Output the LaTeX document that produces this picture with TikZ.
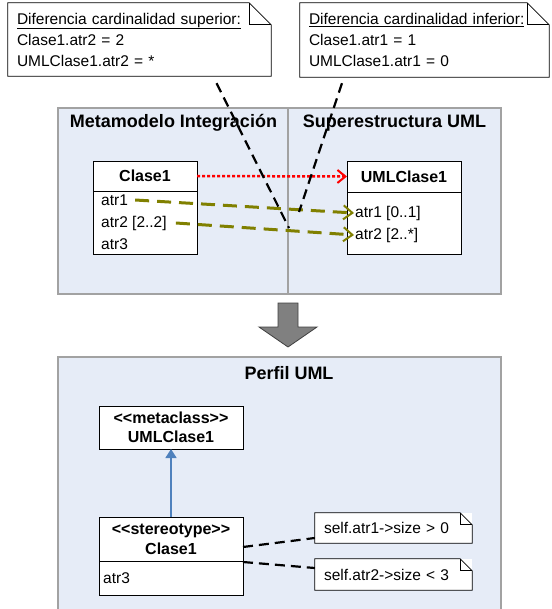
\documentclass[tikz,border=0pt]{standalone}
\usepackage{fontspec}
\setmainfont{Liberation Sans}
\usetikzlibrary{arrows.meta,positioning}
\definecolor{panelfill}{RGB}{230,236,247}
\definecolor{panelline}{RGB}{162,162,162}
\definecolor{mapolive}{RGB}{128,128,0}
\definecolor{extblue}{RGB}{79,129,189}
\newcommand{\ster}[1]{<\kern0pt<#1>\kern0pt>}
\newcommand{\noteoutline}[2]{%
  \draw[line width=0.8pt] (#1.south west) -- (#1.north west) -- ([xshift=-#2]#1.north east)
    -- ([yshift=-#2]#1.north east) -- (#1.south east) -- cycle;
  \draw[line width=0.8pt] ([xshift=-#2]#1.north east) |- ([yshift=-#2]#1.north east);}
\tikzset{
  panel/.style={draw=panelline, fill=panelfill, line width=2.5pt},
  paneltitle/.style={font=\bfseries\fontsize{18}{21}\selectfont},
  classbox/.style={draw, fill=white, line width=0.8pt, inner sep=0pt, outer sep=0pt,
    align=center, font=\bfseries\fontsize{16}{19.5}\selectfont},
  attrbox/.style={draw, fill=white, line width=0.8pt, inner sep=0pt, outer sep=0pt},
  attr/.style={inner sep=1pt, anchor=west, font=\fontsize{15.5}{19}\selectfont},
  note/.style={fill=white, inner sep=0pt, align=left, font=\fontsize{15.5}{21}\selectfont},
  notelink/.style={line width=2.2pt, dash pattern=on 10pt off 6pt},
  mapping/.style={mapolive, line width=3pt, dash pattern=on 14pt off 8pt,
    -{Straight Barb[length=9pt,width=14pt,line width=2pt]}},
}
\begin{document}
\begin{tikzpicture}[x=1pt,y=-1pt]
\useasboundingbox (0,0) rectangle (551,609);
% paneles
\draw[panel] (58,108) rectangle (288,294);
\draw[panel] (288,108) rectangle (501,294);
\draw[panel] (58,357) rectangle (501,625);
\node[paneltitle] (titint) at (173.5,123) {Metamodelo Integración};
\node[paneltitle] (titsup) at (394.5,123) {Superestructura UML};
\node[paneltitle] (titper) at (289,373) {Perfil UML};

% clases de arriba
\node[classbox, minimum width=104pt, minimum height=30pt] (c1head) at (145,176) {Clase1};
\node[attrbox, minimum width=104pt, minimum height=63pt, below=0pt of c1head] (c1attrs) {};
\node[attr] (c1a1) at (100,200) {atr1};
\node[attr] (c1a2) at (100,223) {atr2 [2..2]};
\node[attr] (c1a3) at (100,244) {atr3};
\node[classbox, minimum width=114pt, minimum height=31pt] (u1head) at (404,176.5) {UMLClase1};
\node[attrbox, minimum width=114pt, minimum height=62pt, below=0pt of u1head] (u1attrs) {};
\node[attr] (u1a1) at (354,213) {atr1 [0..1]};
\node[attr] (u1a2) at (354,235) {atr2 [2..*]};

\draw[red, line width=2.5pt, dash pattern=on 3pt off 2pt,
  -{Straight Barb[length=8pt,width=13pt,line width=2pt]}] (c1head.east) -- (u1head.west);
\draw[mapping] ([xshift=6pt]c1a1.east) -- (u1a1.west);
\draw[mapping] ([xshift=8pt]c1a2.east) -- (u1a2.west);

% notas de cardinalidad
\node[note, minimum width=263pt, minimum height=73pt, text width=245pt] (difsup) at (139.5,39.5)
  {\underline{Diferencia cardinalidad superior:}\\Clase1.atr2 = 2\\UMLClase1.atr2 = *};
\noteoutline{difsup}{22pt}
\node[note, minimum width=249pt, minimum height=74pt, text width=231pt] (difinf) at (424.5,40)
  {\underline{Diferencia cardinalidad inferior:}\\Clase1.atr1 = 1\\UMLClase1.atr1 = 0};
\noteoutline{difinf}{22pt}
\coordinate (supend) at (289,228);
\coordinate (infend) at (299,212);
\draw[notelink] ([xshift=77pt,yshift=-7pt]difsup.south) -- (supend);
\draw[notelink] ([xshift=-82.5pt,yshift=-6pt]difinf.south) -- (infend);

% flecha gris
\draw[fill=gray, draw=gray!50!black, line width=0.8pt]
  (278,303) -- (298,303) -- (298,327) -- (317,327) -- (288,347) -- (259,327) -- (278,327) -- cycle;

% perfil
\node[classbox, minimum width=144pt, minimum height=43pt, font=\bfseries\fontsize{16}{19}\selectfont]
  (meta) at (171,427.5) {\ster{metaclass}\\UMLClase1};
\node[classbox, minimum width=144pt, minimum height=44pt, font=\bfseries\fontsize{16}{20}\selectfont]
  (stereo) at (171,539) {\ster{stereotype}\\Clase1};
\node[attrbox, minimum width=144pt, minimum height=34pt, below=0pt of stereo] (stattrs) {};
\node[attr] (s1a3) at (102,578) {atr3};
\draw[extblue, line width=1.6pt, -{Triangle[length=9pt,width=11pt]}] (stereo.north) -- (meta.south);

\node[note, minimum width=157pt, minimum height=30pt, text width=139pt] (ocl1) at (393.5,528)
  {self.atr1->size > 0};
\noteoutline{ocl1}{12pt}
\node[note, minimum width=157pt, minimum height=31pt, text width=139pt] (ocl2) at (393.5,574.5)
  {self.atr2->size < 3};
\noteoutline{ocl2}{12pt}
\draw[notelink] ([yshift=-8pt]stereo.east) -- ([yshift=-10pt]ocl1.west);
\draw[notelink] ([yshift=-1pt]stereo.south east) -- ([yshift=6.5pt]ocl2.west);
\end{tikzpicture}
\end{document}
